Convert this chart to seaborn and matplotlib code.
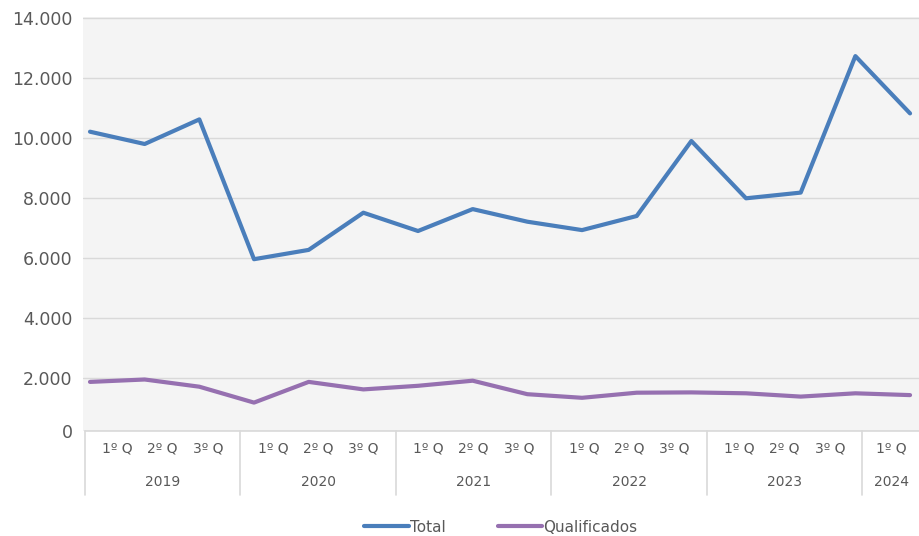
import matplotlib
matplotlib.use("Agg")
import matplotlib.pyplot as plt
import seaborn as sns
import pandas as pd

# dados (quadrimestres 2019 - 1º Q 2024)
anos = ["2019", "2020", "2021", "2022", "2023", "2024"]
quadrimestres = ["1º Q", "2º Q", "3º Q"]
total = [10220, 9810, 10630, 5970, 6280, 7520, 6910, 7640, 7220,
         6940, 7410, 9910, 8000, 8190, 12740, 10830]
qualificados = [1880, 1960, 1720, 1190, 1880, 1630, 1750, 1920, 1470,
                1350, 1520, 1530, 1500, 1390, 1500, 1440]
series = ["Total", "Qualificados"]
cores = ["#4a7ebb", "#9670b0"]

n = len(total)
df = pd.DataFrame({
    "idx": list(range(n)) * 2,
    "valor": total + qualificados,
    "serie": [series[0]] * n + [series[1]] * n,
})

sns.set_style("white")
plt.rcParams["font.family"] = ["DejaVu Sans"]
cinza_txt = "#595959"
cinza_linha = "#d9d9d9"

W, H = 920, 536
fig = plt.figure(figsize=(W / 100, H / 100), dpi=100)
ax_l, ax_r, ax_t, ax_b = 83, 920, 17, 430.7
ax = fig.add_axes([ax_l / W, 1 - ax_b / H, (ax_r - ax_l) / W, (ax_b - ax_t) / H])
ax.set_facecolor("#f4f4f4")

sns.lineplot(data=df, x="idx", y="valor", hue="serie", palette=cores,
             linewidth=3, ax=ax, legend=False, solid_joinstyle="round",
             solid_capstyle="round")

# escala: pontos a 54.67 px, primeiro ponto em x=90 px
passo = 54.67
ax.set_xlim((ax_l - 90) / passo, (ax_r - 90) / passo)
# grade a cada 2.000 com 60 px; a base do gráfico fica um pouco acima de zero
px_por_mil = 30.0
y_min = 2000 - (ax_b - 378.3) / px_por_mil * 1000
y_max = 14000 + (18.3 - ax_t) / px_por_mil * 1000
ax.set_ylim(y_min, y_max)
ticks = [y_min] + list(range(2000, 14001, 2000))
rotulos = ["0"] + [f"{v:,}".replace(",", ".") for v in range(2000, 14001, 2000)]
ax.set_yticks(ticks, rotulos)
ax.tick_params(axis="y", length=0, pad=7.5, labelsize=12.5, labelcolor=cinza_txt)
ax.set_xticks([])
ax.set_xlabel("")
ax.set_ylabel("")
ax.grid(axis="y", color=cinza_linha, linewidth=1)
ax.set_axisbelow(True)
for s in ax.spines.values():
    s.set_visible(False)

# eixo de categorias (anos / quadrimestres)
larg_cat = 51.83
ax2 = ax.twiny()
ax2.set_xlim((ax_l - 85) / larg_cat, (ax_r - 85) / larg_cat)
ax2.set_xticks([])
for s in ax2.spines.values():
    s.set_visible(False)
tr = ax2.get_xaxis_transform()
ax2.plot([0, ax2.get_xlim()[1]], [0, 0],
         color=cinza_linha, lw=1.2, transform=tr, clip_on=False)
fim = ax2.get_xlim()[1]
for i, ano in enumerate(anos):
    ini = 3 * i
    ax2.plot([ini, ini], [0, -0.155], color=cinza_linha, lw=1.2,
             transform=tr, clip_on=False)
    if i < len(anos) - 1:
        centro = ini + 1.5
        qs = quadrimestres
        pos = [centro - 0.87, centro, centro + 0.87]
    else:
        centro = (ini + fim) / 2
        qs = quadrimestres[:1]
        pos = [centro]
    for q, x in zip(qs, pos):
        ax2.text(x, -0.044, q, transform=tr, ha="center", va="center",
                 fontsize=10, color=cinza_txt)
    ax2.text(centro, -0.123, ano, transform=tr, ha="center", va="center",
             fontsize=10, color=cinza_txt)

handles = [plt.Line2D([], [], color=c, lw=3) for c in cores]
fig.legend(handles, series, loc="center", ncol=2,
           bbox_to_anchor=(501 / W, 1 - 527 / H), frameon=False,
           fontsize=11, handlelength=2.9, handletextpad=0.1,
           columnspacing=3.4, labelcolor=cinza_txt)

fig.savefig("out.png", dpi=100)
